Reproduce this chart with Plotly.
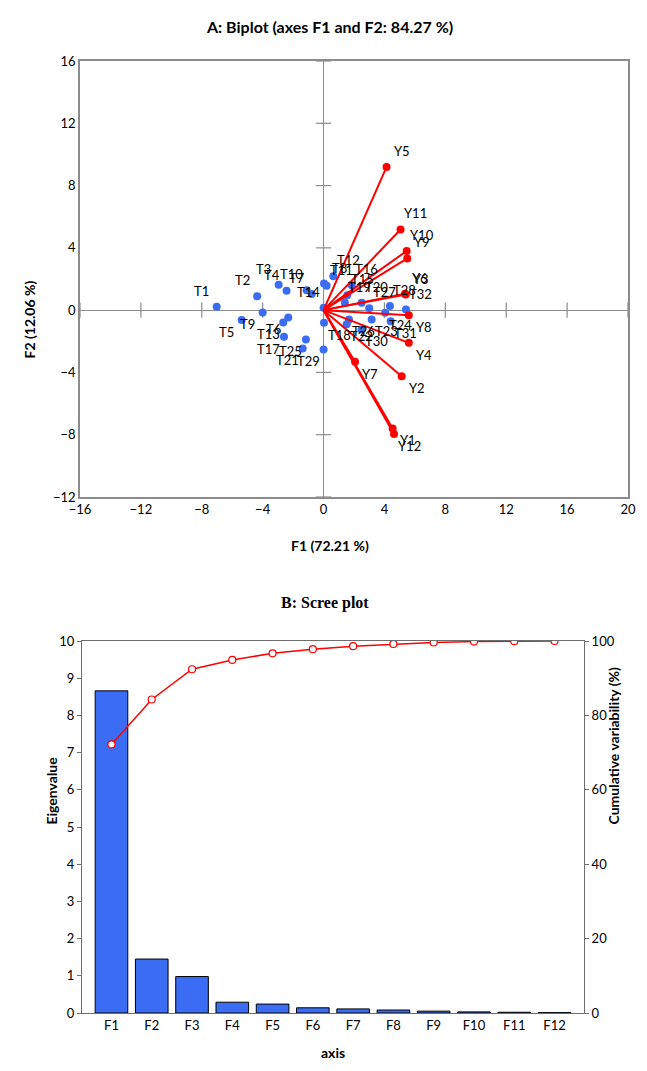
import plotly.graph_objects as go

# ---------------- Data ----------------
obs_labels = [f"T{i}" for i in range(1, 33)]
obs_f1 = [-7.02, -4.36, -2.95, -2.43, -5.38, -2.32, -0.78, 0.03, -4.00, -1.11,
          0.20, 0.64, -2.65, 0.00, 1.56, 1.85, -2.60, 0.03, 1.40, 2.50,
          -1.37, 1.52, 3.16, 4.05, -1.16, 1.67, 3.00, 4.36, 0.00, 2.50,
          4.41, 5.41]
obs_f2 = [0.21, 0.90, 1.63, 1.24, -0.64, -0.47, 1.03, 1.71, -0.15, 1.28,
          1.56, 2.18, -0.79, 0.15, 0.96, 1.60, -1.71, -0.81, 0.48, 0.48,
          -2.46, -0.90, -0.60, -0.17, -1.88, -0.60, 0.12, 0.26, -2.52, -1.24,
          -0.71, 0.04]
obs_pos = ["tl", "tl", "tl", "tl", "bl", "bl", "tl", "tr", "bl", "tl",
           "tr", "tr", "bl", "tl", "tr", "tr", "bl", "br", "tr", "tr",
           "bl", "br", "br", "br", "bl", "br", "tr", "tr", "bl", "br",
           "br", "tr"]

var_labels = [f"Y{i}" for i in range(1, 13)]
var_f1 = [4.54, 5.13, 5.40, 5.60, 4.14, 5.35, 2.07, 5.60, 5.50, 5.46, 5.06, 4.63]
var_f2 = [-7.60, -4.24, 1.00, -2.10, 9.20, 1.05, -3.32, -0.32, 3.32, 3.80, 5.18, -7.96]
var_pos = ["br", "br", "tr", "br", "tr", "tr", "br", "br", "tr", "tr", "tr", "br"]

axes_names = [f"F{i}" for i in range(1, 13)]
eigenvalues = [8.66, 1.45, 0.98, 0.29, 0.24, 0.14, 0.11, 0.08, 0.05, 0.03, 0.02, 0.01]
cumulative = [72.21, 84.27, 92.40, 94.90, 96.70, 97.80, 98.60, 99.20, 99.60, 99.85, 99.95, 100.0]

x_ticks = list(range(-16, 21, 4))
y_ticks = list(range(-12, 17, 4))

# ---------------- Styles / layout helpers ----------------
SANS = "Lato, 'Liberation Sans', sans-serif"
SERIF = "'Liberation Serif', 'DejaVu Serif', serif"
BLUE = "#3a6cf4"
RED = "#ff0000"
GRAY = "#8c8c8c"
OFF = {"tl": (-15, 16), "tr": (15, 16), "bl": (-15, -12), "br": (15, -12)}

PAGE = 8          # body margin of the html page
W, H = 647 - PAGE, 1071 - PAGE


def px(x):
    return (x - PAGE) / W


def py(y):
    return 1 - (y - PAGE) / H


fig = go.Figure()

# zero-line tick marks (decoration on the cross axes)
fig.add_trace(go.Scatter(x=[t for t in x_ticks if t != 0], y=[0] * (len(x_ticks) - 1),
                         mode="markers", marker=dict(symbol="line-ns", size=11,
                         line=dict(color=GRAY, width=1.2)), hoverinfo="skip",
                         showlegend=False, xaxis="x", yaxis="y"))
fig.add_trace(go.Scatter(x=[0] * (len(y_ticks) - 1), y=[t for t in y_ticks if t != 0],
                         mode="markers", marker=dict(symbol="line-ew", size=11,
                         line=dict(color=GRAY, width=1.2)), hoverinfo="skip",
                         showlegend=False, xaxis="x", yaxis="y"))

# observations
fig.add_trace(go.Scatter(x=obs_f1, y=obs_f2, mode="markers",
                         marker=dict(color=BLUE, size=8), showlegend=False,
                         xaxis="x", yaxis="y"))

# variable vectors
vx, vy = [], []
for a, b in zip(var_f1, var_f2):
    vx += [0, a, None]
    vy += [0, b, None]
fig.add_trace(go.Scatter(x=vx, y=vy, mode="lines", line=dict(color=RED, width=2),
                         showlegend=False, xaxis="x", yaxis="y"))
fig.add_trace(go.Scatter(x=var_f1, y=var_f2, mode="markers",
                         marker=dict(color=RED, size=8), showlegend=False,
                         xaxis="x", yaxis="y"))

annotations = []
for lab, a, b, p in zip(obs_labels + var_labels, obs_f1 + var_f1, obs_f2 + var_f2, obs_pos + var_pos):
    dx, dy = OFF[p]
    annotations.append(dict(x=a, y=b, xref="x", yref="y", text=lab, showarrow=False,
                            xshift=dx, yshift=dy, font=dict(family=SANS, size=13, color="black")))

# scree plot
fig.add_trace(go.Bar(x=axes_names, y=eigenvalues, marker=dict(color=BLUE,
                     line=dict(color="black", width=1)), showlegend=False,
                     xaxis="x2", yaxis="y2"))
fig.add_trace(go.Scatter(x=axes_names, y=cumulative, mode="lines+markers",
                         line=dict(color=RED, width=1.5),
                         marker=dict(symbol="circle", size=7, color="white",
                                     line=dict(color=RED, width=1.2)),
                         showlegend=False, xaxis="x2", yaxis="y3"))

annotations += [
    dict(x=px(330), y=py(15), xref="paper", yref="paper", text="<b>A: Biplot (axes F1 and F2: 84.27 %)</b>",
         showarrow=False, font=dict(family=SANS, size=16, color="black")),
    dict(x=px(330), y=py(545), xref="paper", yref="paper", text="<b>F1 (72.21 %)</b>",
         showarrow=False, font=dict(family=SANS, size=14, color="black")),
    dict(x=px(18), y=py(279), xref="paper", yref="paper", text="<b>F2 (12.06 %)</b>", textangle=-90,
         showarrow=False, font=dict(family=SANS, size=14, color="black")),
    dict(x=px(325), y=py(603), xref="paper", yref="paper", text="<b>B: Scree plot</b>",
         showarrow=False, font=dict(family=SERIF, size=16, color="black")),
    dict(x=px(40), y=py(827), xref="paper", yref="paper", text="<b>Eigenvalue</b>", textangle=-90,
         showarrow=False, font=dict(family=SANS, size=14, color="black")),
    dict(x=px(623), y=py(827), xref="paper", yref="paper", text="<b>Cumulative variability (%)</b>", textangle=-90,
         showarrow=False, font=dict(family=SANS, size=14, color="black")),
    dict(x=px(333), y=py(1063), xref="paper", yref="paper", text="<b>axis</b>",
         showarrow=False, font=dict(family=SANS, size=14, color="black")),
]

tickfont = dict(family=SANS, size=13, color="black")
fig.update_layout(
    template="none",
    width=W, height=H, margin=dict(l=0, r=0, t=0, b=0, autoexpand=False),
    paper_bgcolor="white", plot_bgcolor="white",
    annotations=annotations, bargap=0.19,
    xaxis=dict(domain=[px(80), px(628)], range=[-16, 20], tickvals=x_ticks,
               showgrid=False, zeroline=True, zerolinecolor=GRAY, zerolinewidth=1.2,
               showline=True, linecolor=GRAY, linewidth=1.5, mirror=True,
               ticks="", tickfont=tickfont, anchor="y", automargin=False),
    yaxis=dict(domain=[py(497), py(61)], range=[-12, 16], tickvals=y_ticks,
               showgrid=False, zeroline=True, zerolinecolor=GRAY, zerolinewidth=1.2,
               showline=True, linecolor=GRAY, linewidth=1.5, mirror=True,
               ticks="", tickfont=tickfont, anchor="x", automargin=False),
    xaxis2=dict(domain=[px(82), px(584)], type="category", showgrid=False,
                showline=True, linecolor="#6e6e6e", linewidth=1, mirror=True,
                ticks="", tickfont=tickfont, anchor="y2", automargin=False),
    yaxis2=dict(domain=[py(1013), py(641)], range=[0, 10], dtick=1,
                showgrid=False, zeroline=False, showline=True, linecolor="#6e6e6e",
                linewidth=1, mirror=True, ticks="outside", ticklen=4, tickcolor="#6e6e6e",
                tickfont=tickfont, anchor="x2", automargin=False),
    yaxis3=dict(domain=[py(1013), py(641)], range=[0, 100], dtick=20,
                overlaying="y2", side="right", showgrid=False, zeroline=False,
                showline=True, linecolor="#6e6e6e", linewidth=1,
                ticks="outside", ticklen=4, tickcolor="#6e6e6e",
                tickfont=tickfont, anchor="x2", automargin=False),
)

fig.write_html("out.html")
